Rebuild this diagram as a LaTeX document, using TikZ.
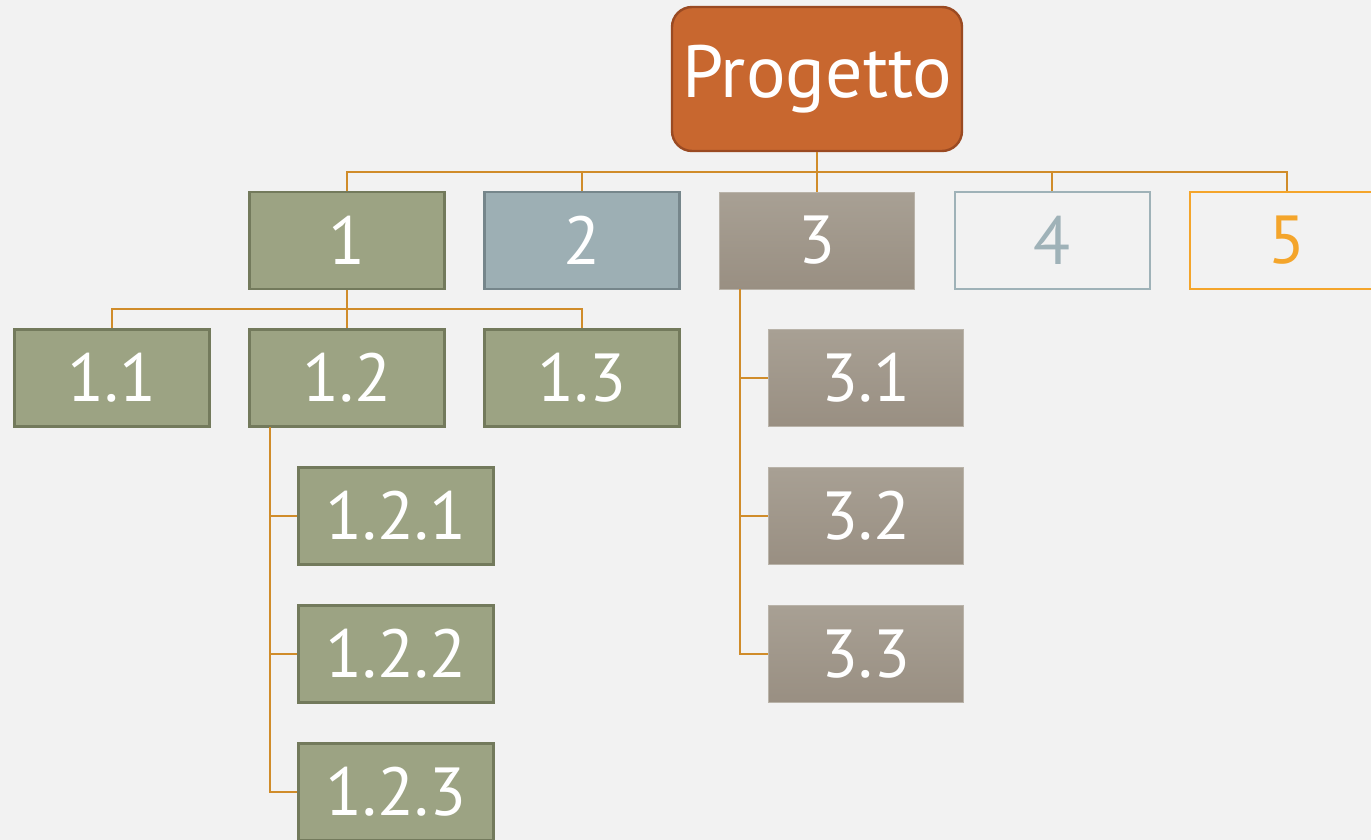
\documentclass[tikz,border=0pt]{standalone}
\usepackage{fontspec}
\setmainfont{PT Sans}
\definecolor{bg}{HTML}{F2F2F2}
\definecolor{conn}{HTML}{D08C2A}
\definecolor{rootfill}{HTML}{C8672F}
\definecolor{rootdraw}{HTML}{9A4A22}
\definecolor{grfill}{HTML}{9CA383}
\definecolor{grdraw}{HTML}{737A5C}
\definecolor{blfill}{HTML}{9DAFB4}
\definecolor{bldraw}{HTML}{76868B}
\definecolor{taupetop}{HTML}{A8A094}
\definecolor{taupebot}{HTML}{998F82}
\definecolor{lblue}{HTML}{9FB2B8}
\definecolor{orng}{HTML}{F4A52B}
\tikzset{
  box/.style={rectangle, minimum width=195pt, minimum height=97pt, inner sep=0pt,
    text=white, font=\fontsize{68}{68}\selectfont, line width=2.4pt},
  green/.style={box, fill=grfill, draw=grdraw},
  bluebox/.style={box, fill=blfill, draw=bldraw},
  taupe/.style={box, top color=taupetop, bottom color=taupebot, draw=taupetop!80!white, line width=1pt},
  outl/.style={box, fill=bg, draw=lblue, text=lblue, line width=2pt},
  outo/.style={box, fill=bg, draw=orng, text=orng, line width=2pt},
  link/.style={draw=conn, line width=1.5pt}
}
\begin{document}
\begin{tikzpicture}[x=1pt,y=-1pt]
\useasboundingbox (0,0) rectangle (1371,840);
\fill[bg] (0,0) rectangle (1371,840);
\clip (0,0) rectangle (1371,840);
\node[rectangle, rounded corners=20pt, minimum width=290pt, minimum height=144pt, inner sep=0pt,
  fill=rootfill, draw=rootdraw, line width=2.4pt, text=white, font=\fontsize{74}{74}\selectfont]
  (P) at (817,79) {Progetto};
\node[green] (n1) at (347,240.5) {1};
\node[bluebox] (n2) at (582,240.5) {2};
\node[taupe] (n3) at (817,240.5) {3};
\node[outl] (n4) at (1052,240.5) {4};
\node[outo] (n5) at (1287,240.5) {5};
\node[green] (n11) at (112,378) {1.1};
\node[green] (n12) at (347,378) {1.2};
\node[green] (n13) at (582,378) {1.3};
\node[green] (n121) at (396,516) {1.2.1};
\node[green] (n122) at (396,654) {1.2.2};
\node[green] (n123) at (396,792) {1.2.3};
\node[taupe] (n31) at (866,378) {3.1};
\node[taupe] (n32) at (866,516) {3.2};
\node[taupe] (n33) at (866,654) {3.3};
\coordinate (b0) at (817,172);
\coordinate (b1) at (347,309);
\coordinate (v12) at (270,427);
\coordinate (v3) at (740,289);
\draw[link] (P.south) -- (P.south |- b0);
\draw[link] (n1.north) -- (n1.north |- b0) -- (n5.north |- b0) -- (n5.north);
\draw[link] (n2.north) -- (n2.north |- b0);
\draw[link] (n3.north) -- (n3.north |- b0);
\draw[link] (n4.north) -- (n4.north |- b0);
\draw[link] (n1.south) -- (n12.north);
\draw[link] (n11.north) -- (n11.north |- b1) -- (n13.north |- b1) -- (n13.north);
\draw[link] (v12) |- (n121.west);
\draw[link] (v12) |- (n122.west);
\draw[link] (v12) |- (n123.west);
\draw[link] (v3) |- (n31.west);
\draw[link] (v3) |- (n32.west);
\draw[link] (v3) |- (n33.west);
\end{tikzpicture}
\end{document}
